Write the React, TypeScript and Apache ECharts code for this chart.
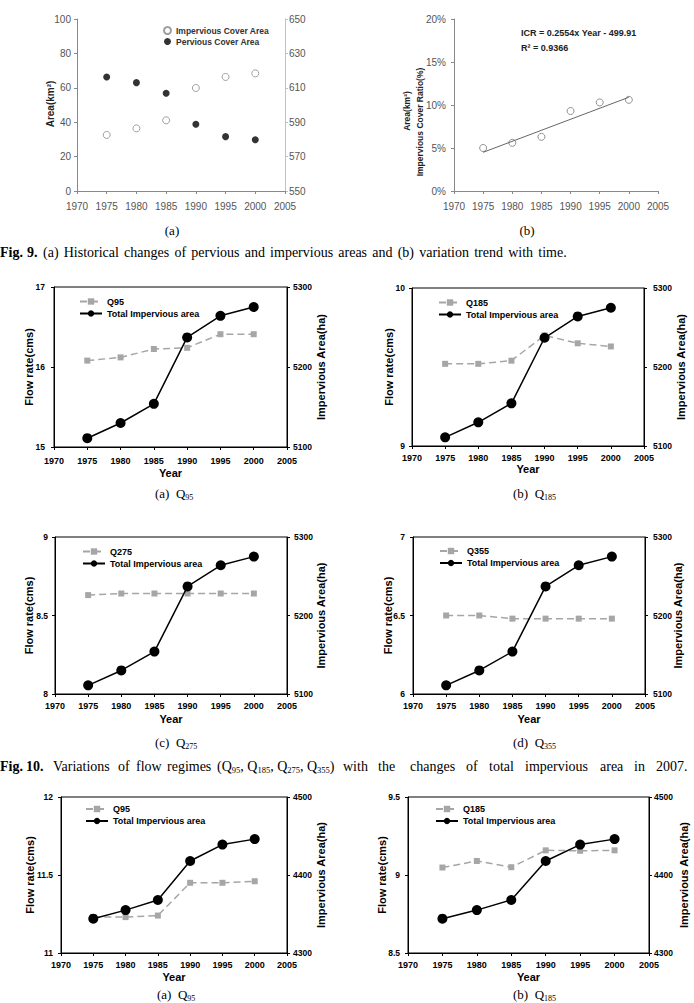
import React, { useEffect, useRef } from "react";
import * as echarts from "echarts";

// ---------------- DATA ----------------
const years = [1975, 1980, 1985, 1990, 1995, 2000];

// Fig. 9 (a)
const imperviousCoverArea = [32.6, 36.4, 41.1, 59.9, 66.3, 68.4]; // km2, left axis
const perviousCoverArea = [616.3, 613.0, 606.8, 588.8, 581.6, 579.8]; // km2, right axis

// Fig. 9 (b)
const imperviousCoverRatio = [5.0, 5.6, 6.3, 9.3, 10.3, 10.6]; // %
const trendYears = [1975, 2000];
const trendRatio = [4.5, 10.9];

// Fig. 10 (2007)
const totalImperviousA = [5111, 5130, 5154, 5237, 5264, 5275];
const q95A = [16.08, 16.12, 16.225, 16.24, 16.41, 16.41];
const q185A = [9.52, 9.52, 9.54, 9.7, 9.65, 9.63];
const q275A = [8.63, 8.64, 8.64, 8.64, 8.64, 8.64];
const q355A = [6.5, 6.5, 6.48, 6.48, 6.48, 6.48];

// Next figure (bottom row)
const totalImperviousB = [4344, 4355, 4368, 4418, 4439, 4446];
const q95B = [11.23, 11.23, 11.24, 11.45, 11.45, 11.46];
const q185B = [9.048, 9.09, 9.05, 9.158, 9.155, 9.158];

const impName = "Total Impervious area";

// ---------------- STYLE ----------------
const SANS = "'Liberation Sans', Arial, sans-serif";
const SERIF = "'Liberation Serif', 'Times New Roman', serif";

const plain = (v: number) => String(v);
const pairs = (vals: number[], xs: number[] = years) => xs.map((x, i) => [x, vals[i]]);

type FlowPanel = {
  grid: { left: number; top: number; width: number; height: number };
  yl: [number, number, number];
  yr: [number, number, number];
  q: string;
  qData: number[];
  imp: number[];
  lm: number;
  rm: number;
  xm: number;
  yg: number;
  legend: [number, number];
  lt: number;
  rt: number;
};

const flowPanels: FlowPanel[] = [
  { grid: { left: 54, top: 287, width: 233, height: 160 }, yl: [15, 17, 1], yr: [5100, 5300, 100], q: "Q95", qData: q95A, imp: totalImperviousA, lm: 9, rm: 6, xm: 9, yg: 20, legend: [74, 292], lt: 29, rt: 321 },
  { grid: { left: 412, top: 288, width: 232, height: 158 }, yl: [9, 10, 1], yr: [5100, 5300, 100], q: "Q185", qData: q185A, imp: totalImperviousA, lm: 7, rm: 9, xm: 7.5, yg: 17.5, legend: [433, 293], lt: 389, rt: 681 },
  { grid: { left: 55, top: 537, width: 232, height: 157 }, yl: [8, 9, 0.5], yr: [5100, 5300, 100], q: "Q275", qData: q275A, imp: totalImperviousA, lm: 7, rm: 7, xm: 7.5, yg: 19, legend: [77, 542], lt: 29, rt: 321 },
  { grid: { left: 413, top: 537, width: 232, height: 157 }, yl: [6, 7, 0.5], yr: [5100, 5300, 100], q: "Q355", qData: q355A, imp: totalImperviousA, lm: 8, rm: 8, xm: 7.5, yg: 19, legend: [434, 541.5], lt: 388, rt: 678 },
  { grid: { left: 61, top: 797, width: 226, height: 156 }, yl: [11, 12, 0.5], yr: [4300, 4500, 100], q: "Q95", qData: q95B, imp: totalImperviousB, lm: 8, rm: 6, xm: 7, yg: 18.5, legend: [80, 799.5], lt: 30, rt: 321 },
  { grid: { left: 408, top: 797, width: 241, height: 156 }, yl: [8.5, 9.5, 0.5], yr: [4300, 4500, 100], q: "Q185", qData: q185B, imp: totalImperviousB, lm: 8, rm: 5, xm: 7, yg: 18.5, legend: [430, 799.5], lt: 382, rt: 684 },
];

function txt(text: string, x: number, y: number, opts: any = {}) {
  return {
    type: "text",
    x,
    y,
    rotation: opts.rotation || 0,
    silent: true,
    style: {
      text,
      fontSize: opts.fontSize || 12,
      fontFamily: opts.fontFamily || SANS,
      fontWeight: opts.fontWeight || "normal",
      fill: opts.fill || "#000",
      align: opts.align || "left",
      verticalAlign: "middle",
      rich: opts.rich,
    },
  };
}

const subRich = (size: number, sub: number) => ({
  n: { fontSize: size, fontFamily: SERIF, fill: "#000", lineHeight: size + 3 },
  s: { fontSize: sub, fontFamily: SERIF, fill: "#000", verticalAlign: "bottom", lineHeight: sub },
});

function buildOption() {
  const grid: any[] = [];
  const xAxis: any[] = [];
  const yAxis: any[] = [];
  const series: any[] = [];
  const legend: any[] = [];
  const graphic: any[] = [];

  const lightLabel = { fontSize: 10, color: "#555", fontFamily: SANS };

  // ---- Fig 9 (a)
  grid.push({ left: 77, top: 19, width: 208, height: 172 });
  xAxis.push({
    gridIndex: 0, type: "value", min: 1970, max: 2005, interval: 5,
    axisLine: { onZero: false, lineStyle: { color: "#888" } },
    axisTick: { length: 3, lineStyle: { color: "#888" } },
    axisLabel: { ...lightLabel, margin: 10, formatter: plain },
    splitLine: { show: false },
  });
  yAxis.push({
    gridIndex: 0, type: "value", min: 0, max: 100, interval: 20, position: "left",
    axisLine: { show: true, onZero: false, lineStyle: { color: "#888" } },
    axisTick: { show: true, length: 3, lineStyle: { color: "#888" } },
    axisLabel: { ...lightLabel, margin: 6, formatter: plain },
    splitLine: { show: false },
  });
  yAxis.push({
    gridIndex: 0, type: "value", min: 550, max: 650, interval: 20, position: "right",
    axisLine: { show: true, onZero: false, lineStyle: { color: "#c0c0c0" } },
    axisTick: { show: true, length: 3, lineStyle: { color: "#c0c0c0" } },
    axisLabel: { ...lightLabel, margin: 4, formatter: plain },
    splitLine: { show: false },
  });
  series.push({
    type: "scatter", name: "Impervious Cover Area", xAxisIndex: 0, yAxisIndex: 0,
    data: pairs(imperviousCoverArea), symbol: "circle", symbolSize: 7,
    itemStyle: { color: "#fff", borderColor: "#888", borderWidth: 1 },
  });
  series.push({
    type: "scatter", name: "Pervious Cover Area", xAxisIndex: 0, yAxisIndex: 1,
    data: pairs(perviousCoverArea), symbol: "circle", symbolSize: 7,
    itemStyle: { color: "#000" },
  });
  legend.push({
    data: ["Impervious Cover Area", "Pervious Cover Area"], orient: "vertical",
    left: 158, top: 21, itemWidth: 7, itemHeight: 7, itemGap: 2,
    textStyle: { fontSize: 8.5, fontWeight: "bold", fontFamily: SANS, color: "#333" },
    selectedMode: false,
  });
  graphic.push(txt("Area(km²)", 50, 104, { rotation: Math.PI / 2, align: "center", fontWeight: "bold", fontSize: 10, fill: "#222" }));

  // ---- Fig 9 (b)
  grid.push({ left: 454, top: 19, width: 204, height: 172 });
  xAxis.push({
    gridIndex: 1, type: "value", min: 1970, max: 2005, interval: 5,
    axisLine: { onZero: false, lineStyle: { color: "#888" } },
    axisTick: { length: 3, lineStyle: { color: "#888" } },
    axisLabel: { ...lightLabel, margin: 10, formatter: plain },
    splitLine: { show: false },
  });
  yAxis.push({
    gridIndex: 1, type: "value", min: 0, max: 20, interval: 5, position: "left",
    axisLine: { show: true, onZero: false, lineStyle: { color: "#888" } },
    axisTick: { show: true, length: 3, lineStyle: { color: "#888" } },
    axisLabel: { ...lightLabel, margin: 8, formatter: "{value}%" },
    splitLine: { show: false },
  });
  series.push({
    type: "line", name: "Linear trend", xAxisIndex: 1, yAxisIndex: 2,
    data: pairs(trendRatio, trendYears), symbol: "none",
    lineStyle: { color: "#666", width: 1 },
  });
  series.push({
    type: "scatter", name: "Impervious Cover Ratio", xAxisIndex: 1, yAxisIndex: 2,
    data: pairs(imperviousCoverRatio), symbol: "circle", symbolSize: 7,
    itemStyle: { color: "#fff", borderColor: "#777", borderWidth: 1 },
  });
  graphic.push(txt("Area(km²)", 407, 111, { rotation: Math.PI / 2, align: "center", fontWeight: "bold", fontSize: 8.5, fill: "#222" }));
  graphic.push(txt("Impervious Cover Ratio(%)", 420, 122, { rotation: Math.PI / 2, align: "center", fontWeight: "bold", fontSize: 8.5, fill: "#222" }));
  graphic.push(txt("ICR = 0.2554x Year - 499.91", 521, 33, { fontWeight: "bold", fontSize: 9, fill: "#222" }));
  graphic.push(txt("R² = 0.9366", 521, 48, { fontWeight: "bold", fontSize: 9, fill: "#222" }));

  // ---- Flow panels
  flowPanels.forEach((p, k) => {
    const gi = 2 + k;
    const yl = 3 + 2 * k;
    const yr = 4 + 2 * k;
    grid.push({ ...p.grid, show: true, borderColor: "#000", borderWidth: 1, backgroundColor: "transparent" });
    const boldLabel = { fontSize: 9, fontWeight: "bold", color: "#000", fontFamily: SANS, formatter: plain };
    const yLabel = { ...boldLabel, fontSize: 8.5 };
    xAxis.push({
      gridIndex: gi, type: "value", min: 1970, max: 2005, interval: 5,
      name: "Year", nameLocation: "middle", nameGap: p.yg,
      nameTextStyle: { fontSize: 11, fontWeight: "bold", color: "#000", fontFamily: SANS },
      axisLine: { onZero: false, lineStyle: { color: "#000" } },
      axisTick: { length: 3, lineStyle: { color: "#000" } },
      axisLabel: { ...boldLabel, margin: p.xm },
      splitLine: { show: false },
    });
    yAxis.push({
      gridIndex: gi, type: "value", min: p.yl[0], max: p.yl[1], interval: p.yl[2], position: "left",
      axisLine: { show: true, onZero: false, lineStyle: { color: "#000" } },
      axisTick: { show: true, length: 3, lineStyle: { color: "#000" } },
      axisLabel: { ...yLabel, margin: p.lm },
      splitLine: { show: false },
    });
    yAxis.push({
      gridIndex: gi, type: "value", min: p.yr[0], max: p.yr[1], interval: p.yr[2], position: "right",
      axisLine: { show: true, onZero: false, lineStyle: { color: "#000" } },
      axisTick: { show: true, length: 3, lineStyle: { color: "#000" } },
      axisLabel: { ...yLabel, margin: p.rm },
      splitLine: { show: false },
    });
    series.push({
      type: "line", name: p.q, xAxisIndex: gi, yAxisIndex: yl,
      data: pairs(p.qData), symbol: "rect", symbolSize: 6, z: 2,
      itemStyle: { color: "#a6a6a6" },
      lineStyle: { color: "#a6a6a6", width: 1.5, type: [7, 4] },
    });
    series.push({
      type: "line", name: impName, xAxisIndex: gi, yAxisIndex: yr,
      data: pairs(p.imp), symbol: "circle", symbolSize: 10, z: 3,
      itemStyle: { color: "#000" },
      lineStyle: { color: "#000", width: 1.5 },
    });
    legend.push({
      data: [p.q, impName], orient: "vertical", left: p.legend[0], top: p.legend[1],
      itemWidth: 22, itemHeight: 8, itemGap: 3, selectedMode: false,
      textStyle: { fontSize: 9, fontWeight: "bold", fontFamily: SANS, color: "#000" },
    });
    const cy = p.grid.top + p.grid.height / 2;
    graphic.push(txt("Flow rate(cms)", p.lt, cy, { rotation: Math.PI / 2, align: "center", fontWeight: "bold", fontSize: 11 }));
    graphic.push(txt("Impervious Area(ha)", p.rt, cy, { rotation: Math.PI / 2, align: "center", fontWeight: "bold", fontSize: 11 }));
  });

  // ---- Panel captions
  graphic.push(txt("(a)", 172, 230, { fontFamily: SERIF, fontSize: 13, align: "center" }));
  graphic.push(txt("(b)", 527, 230, { fontFamily: SERIF, fontSize: 13, align: "center" }));
  const panelCaps: [string, string, number, number][] = [
    ["(a)  Q", "95", 155, 493], ["(b)  Q", "185", 513, 493],
    ["(c)  Q", "275", 155, 742], ["(d)  Q", "355", 513, 742],
    ["(a)  Q", "95", 157, 994], ["(b)  Q", "185", 513, 994],
  ];
  panelCaps.forEach(([a, s, x, y]) => {
    graphic.push(txt(`{n|${a}}{s|${s}}`, x, y, { rich: subRich(13, 8) }));
  });

  // ---- Figure captions
  const cap9: [string, number, boolean?][] = [
    ["Fig.", 0, true], ["9.", 27, true], ["(a)", 43], ["Historical", 63.7], ["changes", 124.1],
    ["of", 174.4], ["pervious", 191.3], ["and", 244.7], ["impervious", 270.1], ["areas", 338.3],
    ["and", 372.3], ["(b)", 397.7], ["variation", 419.2], ["trend", 474.2], ["with", 508.2], ["time.", 538.3],
  ];
  cap9.forEach(([w, x, b]) => graphic.push(txt(w, x, 252, { fontFamily: SERIF, fontSize: 14, fontWeight: b ? "bold" : "normal" })));

  const cap10: [string, number, boolean?][] = [
    ["Fig.", 0, true], ["10.", 26, true], ["Variations", 53], ["of", 118], ["flow", 136], ["regimes", 167],
    ["with", 343], ["the", 378], ["changes", 410], ["of", 466], ["total", 489], ["impervious", 525],
    ["area", 600], ["in", 634], ["2007.", 656],
  ];
  cap10.forEach(([w, x, b]) => graphic.push(txt(w, x, 766, { fontFamily: SERIF, fontSize: 14, fontWeight: b ? "bold" : "normal" })));
  graphic.push(
    txt("{n|(Q}{s|95}{n|, Q}{s|185}{n|, Q}{s|275}{n|, Q}{s|355}{n|)}", 217, 766, { rich: subRich(14, 8.5) })
  );

  return {
    animation: false,
    backgroundColor: "#fff",
    grid,
    xAxis,
    yAxis,
    series,
    legend,
    graphic,
  };
}

export default function App() {
  const ref = useRef<HTMLDivElement>(null);
  useEffect(() => {
    if (!ref.current) return;
    const chart = echarts.init(ref.current, null, { renderer: "svg" });
    chart.setOption(buildOption() as any);
    return () => chart.dispose();
  }, []);
  return (
    <div
      ref={ref}
      style={{ position: "absolute", left: 0, top: 0, width: 694, height: 1003, background: "#fff" }}
    />
  );
}
